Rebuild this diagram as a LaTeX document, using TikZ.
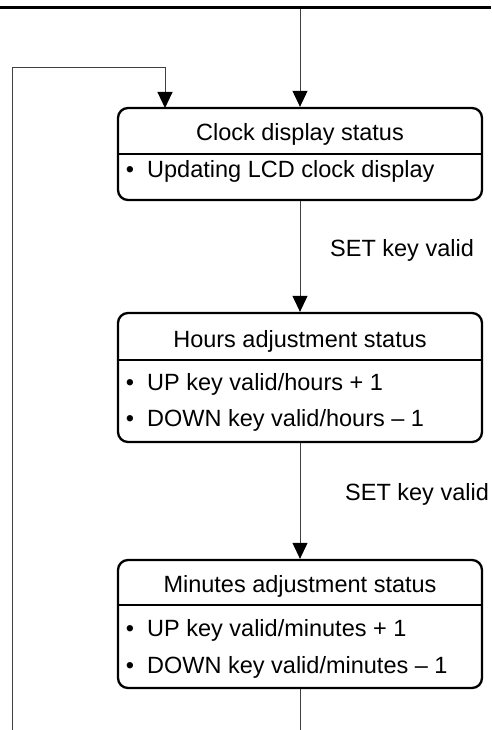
\documentclass[tikz,border=0pt]{standalone}
\usepackage{fontspec}
\setmainfont{Liberation Sans}
\usetikzlibrary{arrows.meta}
\begin{document}
\begin{tikzpicture}[x=1pt,y=-1pt,
  statebox/.style={draw=black,line width=2.3pt,rounded corners=10pt,inner sep=0pt},
  txt/.style={inner sep=0pt,font=\fontsize{23.5}{28}\selectfont},
  conn/.style={draw=black!75,line width=1pt},
  arr/.style={conn,-{Triangle[length=16pt,width=15pt,black,fill=black]}}]
\useasboundingbox (0,0) rectangle (491,730);
% top rule
\draw[line width=3pt] (0,7.5) -- (491,7.5);
% boxes
\node[statebox,minimum width=364pt,minimum height=92pt] (b1) at (300,154) {};
\node[statebox,minimum width=364pt,minimum height=129pt] (b2) at (300,377.5) {};
\node[statebox,minimum width=364pt,minimum height=128pt] (b3) at (300,624) {};
% dividers
\coordinate (d1) at (0,154);
\coordinate (d2) at (0,360);
\coordinate (d3) at (0,605);
\draw[line width=2.3pt] (b1.west |- d1) -- (b1.east |- d1);
\draw[line width=2.3pt] (b2.west |- d2) -- (b2.east |- d2);
\draw[line width=2.3pt] (b3.west |- d3) -- (b3.east |- d3);
% texts
\node[txt,anchor=base] (t1) at (300,141) {Clock display status};
\node[txt,anchor=base] (p1a) at (130,178) {\textbullet};
\node[txt,anchor=base west] (i1a) at (147,178) {Updating LCD clock display};
\node[txt,anchor=base] (t2) at (300,347) {Hours adjustment status};
\node[txt,anchor=base] (p2a) at (130,390) {\textbullet};
\node[txt,anchor=base west] (i2a) at (147,390) {UP key valid/hours + 1};
\node[txt,anchor=base] (p2b) at (130,426.5) {\textbullet};
\node[txt,anchor=base west] (i2b) at (147,426.5) {DOWN key valid/hours – 1};
\node[txt,anchor=base] (t3) at (300,592.5) {Minutes adjustment status};
\node[txt,anchor=base] (p3a) at (130,636.5) {\textbullet};
\node[txt,anchor=base west] (i3a) at (147,636.5) {UP key valid/minutes + 1};
\node[txt,anchor=base] (p3b) at (130,673) {\textbullet};
\node[txt,anchor=base west] (i3b) at (147,673) {DOWN key valid/minutes – 1};
% labels
\node[txt,anchor=base west] (l1) at (330,256) {SET key valid};
\node[txt,anchor=base west] (l2) at (345,500) {SET key valid};
% connectors
\coordinate (top) at (300,9);
\coordinate (bot) at (300,730);
\coordinate (lbot) at (12,730);
\coordinate (lcorner) at (12,68);
\coordinate (ltarget) at (165,108);
\draw[arr] (top) -- (b1.north);
\draw[arr] (b1.south) -- (b2.north);
\draw[arr] (b2.south) -- (b3.north);
\draw[conn] (b3.south) -- (bot);
\draw[arr] (lbot) -- (lcorner) -| (ltarget);
\end{tikzpicture}
\end{document}
